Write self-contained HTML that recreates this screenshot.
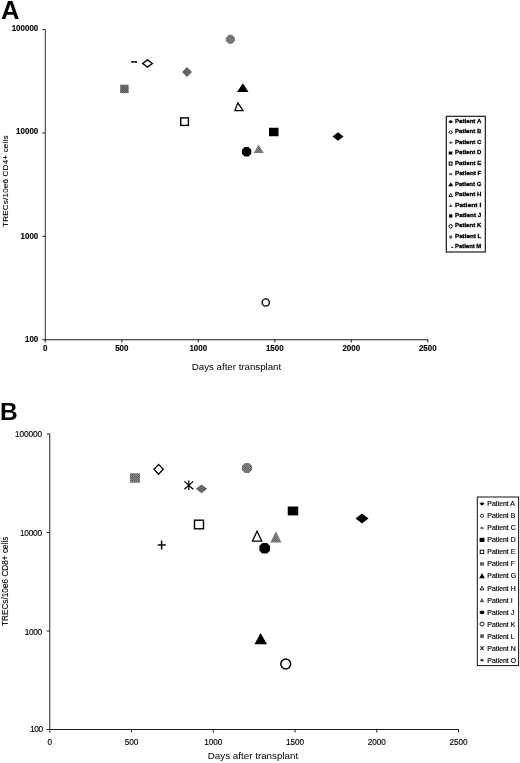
<!DOCTYPE html>
<html lang="en"><head><meta charset="utf-8"><title>TRECs after transplant</title>
<style>
html,body{margin:0;padding:0;background:#fff;}
body{width:520px;height:763px;overflow:hidden;font-family:"Liberation Sans", Arial, Helvetica, sans-serif;}
svg{display:block;font-family:"Liberation Sans", Arial, Helvetica, sans-serif;}
svg text{fill:#000;}
</style></head><body>
<svg width="520" height="763" viewBox="0 0 520 763">
<defs>
<pattern id="hatch" width="2" height="2" patternUnits="userSpaceOnUse">
<rect width="2" height="2" fill="#757575"/><rect width="1" height="1" fill="#505050"/><rect x="1" y="1" width="1" height="1" fill="#5c5c5c"/>
</pattern>
<pattern id="hatchB" width="2" height="2" patternUnits="userSpaceOnUse">
<rect width="2" height="2" fill="#8a8a8a"/><rect width="1" height="1" fill="#5a5a5a"/><rect x="1" y="1" width="1" height="1" fill="#686868"/>
</pattern>
</defs>
<rect width="520" height="763" fill="#fff"/>

<g id="panelA">
<text x="0.90" y="19.40" font-size="25.6" font-weight="bold" text-anchor="start">A</text>
<line x1="45.30" y1="29.10" x2="45.30" y2="340.20" stroke="#333" stroke-width="1.0"/>
<line x1="44.80" y1="339.70" x2="428.30" y2="339.70" stroke="#1a1a1a" stroke-width="1.05"/>
<line x1="45.30" y1="339.70" x2="45.30" y2="342.50" stroke="#222" stroke-width="1.0"/>
<text transform="translate(45.30 351.40) scale(1 1.16)" font-size="8" font-weight="bold" text-anchor="middle" stroke="#000" stroke-width="0.12">0</text>
<line x1="121.80" y1="339.70" x2="121.80" y2="342.50" stroke="#222" stroke-width="1.0"/>
<text transform="translate(121.80 351.40) scale(1 1.16)" font-size="8" font-weight="bold" text-anchor="middle" stroke="#000" stroke-width="0.12">500</text>
<line x1="198.30" y1="339.70" x2="198.30" y2="342.50" stroke="#222" stroke-width="1.0"/>
<text transform="translate(198.30 351.40) scale(1 1.16)" font-size="8" font-weight="bold" text-anchor="middle" stroke="#000" stroke-width="0.12">1000</text>
<line x1="274.80" y1="339.70" x2="274.80" y2="342.50" stroke="#222" stroke-width="1.0"/>
<text transform="translate(274.80 351.40) scale(1 1.16)" font-size="8" font-weight="bold" text-anchor="middle" stroke="#000" stroke-width="0.12">1500</text>
<line x1="351.30" y1="339.70" x2="351.30" y2="342.50" stroke="#222" stroke-width="1.0"/>
<text transform="translate(351.30 351.40) scale(1 1.16)" font-size="8" font-weight="bold" text-anchor="middle" stroke="#000" stroke-width="0.12">2000</text>
<line x1="427.80" y1="339.70" x2="427.80" y2="342.50" stroke="#222" stroke-width="1.0"/>
<text transform="translate(427.80 351.40) scale(1 1.16)" font-size="8" font-weight="bold" text-anchor="middle" stroke="#000" stroke-width="0.12">2500</text>
<line x1="42.30" y1="29.60" x2="45.30" y2="29.60" stroke="#222" stroke-width="1.0"/>
<text transform="translate(38.30 30.60) scale(1 1.14)" font-size="8" font-weight="bold" text-anchor="end" stroke="#000" stroke-width="0.12">100000</text>
<line x1="42.30" y1="132.97" x2="45.30" y2="132.97" stroke="#222" stroke-width="1.0"/>
<text transform="translate(38.30 133.90) scale(1 1.14)" font-size="8" font-weight="bold" text-anchor="end" stroke="#000" stroke-width="0.12">10000</text>
<line x1="42.30" y1="236.33" x2="45.30" y2="236.33" stroke="#222" stroke-width="1.0"/>
<text transform="translate(38.30 238.50) scale(1 1.14)" font-size="8" font-weight="bold" text-anchor="end" stroke="#000" stroke-width="0.12">1000</text>
<line x1="42.30" y1="339.70" x2="45.30" y2="339.70" stroke="#222" stroke-width="1.0"/>
<text transform="translate(38.30 341.75) scale(1 1.14)" font-size="8" font-weight="bold" text-anchor="end" stroke="#000" stroke-width="0.12">100</text>
<text x="236.50" y="370.20" font-size="9.7" font-weight="normal" text-anchor="middle">Days after transplant</text>
<text transform="translate(7.6 181.2) rotate(-90)" font-size="8.1" text-anchor="middle" textLength="91.5" lengthAdjust="spacing" stroke="#000" stroke-width="0.12">TRECs/10e6 CD4+ cells</text>
<line x1="131.00" y1="61.90" x2="137.10" y2="61.90" stroke="#000" stroke-width="1.5"/>
<polygon points="142.70,63.50 147.50,59.90 152.30,63.50 147.50,67.10" fill="#fff" stroke="#000" stroke-width="1.4" stroke-linejoin="miter"/>
<polygon points="182.00,72.00 187.00,67.00 192.00,72.00 187.00,77.00" fill="url(#hatch)"/>
<rect x="120.20" y="84.70" width="8.40" height="8.40" fill="url(#hatch)"/>
<polygon points="228.78,34.80 232.02,34.80 234.90,37.68 234.90,40.92 232.02,43.80 228.78,43.80 225.90,40.92 225.90,37.68" fill="url(#hatchB)"/>
<polygon points="242.90,83.30 248.50,92.00 237.00,92.00" fill="#000"/>
<polygon points="237.90,102.80 243.00,110.60 234.90,110.60" fill="#fff" stroke="#000" stroke-width="1.3" stroke-linejoin="miter"/>
<rect x="180.70" y="117.90" width="7.70" height="7.50" fill="#fff" stroke="#000" stroke-width="1.4"/>
<rect x="269.00" y="127.75" width="9.50" height="8.50" fill="#000"/>
<polygon points="244.63,147.05 248.57,147.05 251.30,149.78 251.30,153.72 248.57,156.45 244.63,156.45 241.90,153.72 241.90,149.78" fill="#000"/>
<polygon points="258.50,144.50 263.80,153.10 253.60,153.10" fill="url(#hatchB)"/>
<polygon points="332.50,136.50 338.00,132.35 343.50,136.50 338.00,140.65" fill="#000"/>
<circle cx="265.75" cy="302.50" r="3.60" fill="#fff" stroke="#000" stroke-width="1.4"/>
<rect x="446.30" y="116.30" width="39.00" height="135.70" fill="#fff" stroke="#111" stroke-width="1.15"/>
<polygon points="448.30,121.82 450.70,120.02 453.10,121.82 450.70,123.62" fill="#000"/>
<text x="455.00" y="123.02" font-size="6.1" font-weight="bold" text-anchor="start" stroke="#000" stroke-width="0.3" textLength="26.3" lengthAdjust="spacingAndGlyphs">Patient A</text>
<polygon points="448.70,132.26 450.70,130.76 452.70,132.26 450.70,133.76" fill="#fff" stroke="#000" stroke-width="0.9" stroke-linejoin="miter"/>
<text x="455.00" y="133.46" font-size="6.1" font-weight="bold" text-anchor="start" stroke="#000" stroke-width="0.3" textLength="26.3" lengthAdjust="spacingAndGlyphs">Patient B</text>
<polygon points="448.50,142.70 450.70,141.30 452.90,142.70 450.70,144.10" fill="#5e5e5e"/>
<text x="455.00" y="143.90" font-size="6.1" font-weight="bold" text-anchor="start" stroke="#000" stroke-width="0.3" textLength="26.3" lengthAdjust="spacingAndGlyphs">Patient C</text>
<rect x="448.70" y="151.53" width="3.60" height="3.00" fill="#000"/>
<text x="455.00" y="154.33" font-size="6.1" font-weight="bold" text-anchor="start" stroke="#000" stroke-width="0.3" textLength="26.3" lengthAdjust="spacingAndGlyphs">Patient D</text>
<rect x="449.20" y="162.07" width="2.80" height="3.10" fill="#fff" stroke="#000" stroke-width="1.0"/>
<text x="455.00" y="164.77" font-size="6.1" font-weight="bold" text-anchor="start" stroke="#000" stroke-width="0.3" textLength="26.3" lengthAdjust="spacingAndGlyphs">Patient E</text>
<rect x="449.10" y="173.11" width="3.10" height="2.00" fill="#5e5e5e"/>
<text x="455.00" y="175.21" font-size="6.1" font-weight="bold" text-anchor="start" stroke="#000" stroke-width="0.3" textLength="26.3" lengthAdjust="spacingAndGlyphs">Patient F</text>
<polygon points="450.70,182.15 453.20,186.35 448.20,186.35" fill="#000"/>
<text x="455.00" y="185.65" font-size="6.1" font-weight="bold" text-anchor="start" stroke="#000" stroke-width="0.3" textLength="26.3" lengthAdjust="spacingAndGlyphs">Patient G</text>
<polygon points="450.70,193.39 452.50,196.49 448.90,196.49" fill="#fff" stroke="#000" stroke-width="0.9" stroke-linejoin="miter"/>
<text x="455.00" y="196.09" font-size="6.1" font-weight="bold" text-anchor="start" stroke="#000" stroke-width="0.3" textLength="26.3" lengthAdjust="spacingAndGlyphs">Patient H</text>
<polygon points="450.70,203.63 452.70,207.03 448.70,207.03" fill="#5e5e5e"/>
<text x="455.00" y="206.53" font-size="6.1" font-weight="bold" text-anchor="start" stroke="#000" stroke-width="0.3" textLength="26.3" lengthAdjust="spacingAndGlyphs">Patient I</text>
<circle cx="450.70" cy="215.97" r="1.90" fill="#000"/>
<text x="455.00" y="216.97" font-size="6.1" font-weight="bold" text-anchor="start" stroke="#000" stroke-width="0.3" textLength="26.3" lengthAdjust="spacingAndGlyphs">Patient J</text>
<circle cx="450.70" cy="226.30" r="1.70" fill="#fff" stroke="#000" stroke-width="0.9"/>
<text x="455.00" y="227.40" font-size="6.1" font-weight="bold" text-anchor="start" stroke="#000" stroke-width="0.3" textLength="26.3" lengthAdjust="spacingAndGlyphs">Patient K</text>
<circle cx="450.70" cy="236.94" r="1.70" fill="#5e5e5e"/>
<text x="455.00" y="237.84" font-size="6.1" font-weight="bold" text-anchor="start" stroke="#000" stroke-width="0.3" textLength="26.3" lengthAdjust="spacingAndGlyphs">Patient L</text>
<line x1="451.00" y1="247.38" x2="453.20" y2="247.38" stroke="#000" stroke-width="0.9"/>
<text x="455.00" y="248.28" font-size="6.1" font-weight="bold" text-anchor="start" stroke="#000" stroke-width="0.3" textLength="26.3" lengthAdjust="spacingAndGlyphs">Patient M</text>
</g>
<g id="panelB">
<text x="0.00" y="419.50" font-size="24.5" font-weight="bold" text-anchor="start">B</text>
<line x1="49.75" y1="433.50" x2="49.75" y2="730.00" stroke="#222" stroke-width="1.0"/>
<line x1="49.25" y1="729.50" x2="459.00" y2="729.50" stroke="#1a1a1a" stroke-width="1.05"/>
<line x1="49.75" y1="729.50" x2="49.75" y2="732.50" stroke="#222" stroke-width="1.0"/>
<text x="49.75" y="744.70" font-size="8.2" font-weight="normal" text-anchor="middle" stroke="#000" stroke-width="0.15">0</text>
<line x1="131.50" y1="729.50" x2="131.50" y2="732.50" stroke="#222" stroke-width="1.0"/>
<text x="131.50" y="744.70" font-size="8.2" font-weight="normal" text-anchor="middle" stroke="#000" stroke-width="0.15">500</text>
<line x1="213.25" y1="729.50" x2="213.25" y2="732.50" stroke="#222" stroke-width="1.0"/>
<text x="213.25" y="744.70" font-size="8.2" font-weight="normal" text-anchor="middle" stroke="#000" stroke-width="0.15">1000</text>
<line x1="295.00" y1="729.50" x2="295.00" y2="732.50" stroke="#222" stroke-width="1.0"/>
<text x="295.00" y="744.70" font-size="8.2" font-weight="normal" text-anchor="middle" stroke="#000" stroke-width="0.15">1500</text>
<line x1="376.75" y1="729.50" x2="376.75" y2="732.50" stroke="#222" stroke-width="1.0"/>
<text x="376.75" y="744.70" font-size="8.2" font-weight="normal" text-anchor="middle" stroke="#000" stroke-width="0.15">2000</text>
<line x1="458.50" y1="729.50" x2="458.50" y2="732.50" stroke="#222" stroke-width="1.0"/>
<text x="458.50" y="744.70" font-size="8.2" font-weight="normal" text-anchor="middle" stroke="#000" stroke-width="0.15">2500</text>
<line x1="46.75" y1="434.00" x2="49.75" y2="434.00" stroke="#222" stroke-width="1.0"/>
<text x="42.00" y="436.60" font-size="8.3" font-weight="normal" text-anchor="end" stroke="#000" stroke-width="0.15" textLength="27.0" lengthAdjust="spacing">100000</text>
<line x1="46.75" y1="532.50" x2="49.75" y2="532.50" stroke="#222" stroke-width="1.0"/>
<text x="42.00" y="535.60" font-size="8.3" font-weight="normal" text-anchor="end" stroke="#000" stroke-width="0.15" textLength="22.0" lengthAdjust="spacing">10000</text>
<line x1="46.75" y1="631.00" x2="49.75" y2="631.00" stroke="#222" stroke-width="1.0"/>
<text x="42.00" y="634.50" font-size="8.3" font-weight="normal" text-anchor="end" stroke="#000" stroke-width="0.15" textLength="17.3" lengthAdjust="spacing">1000</text>
<line x1="46.75" y1="729.50" x2="49.75" y2="729.50" stroke="#222" stroke-width="1.0"/>
<text x="43.10" y="732.40" font-size="8.3" font-weight="normal" text-anchor="end" stroke="#000" stroke-width="0.15" textLength="13.1" lengthAdjust="spacing">100</text>
<text x="253.00" y="759.10" font-size="9.8" font-weight="normal" text-anchor="middle">Days after transplant</text>
<text transform="translate(8.4 581.3) rotate(-90)" font-size="8.2" text-anchor="middle" textLength="89.5" lengthAdjust="spacing" stroke="#000" stroke-width="0.12">TRECs/10e6 CD8+ cells</text>
<rect x="130.00" y="473.25" width="10.00" height="9.50" fill="url(#hatchB)"/>
<polygon points="154.00,469.30 158.60,464.40 163.20,469.30 158.60,474.20" fill="#fff" stroke="#000" stroke-width="1.3" stroke-linejoin="miter"/>
<line x1="188.80" y1="480.50" x2="188.80" y2="490.00" stroke="#000" stroke-width="1.25"/>
<line x1="184.40" y1="481.40" x2="193.20" y2="489.20" stroke="#000" stroke-width="1.25"/>
<line x1="193.20" y1="481.40" x2="184.40" y2="489.20" stroke="#000" stroke-width="1.25"/>
<polygon points="195.90,488.80 201.50,484.40 207.10,488.80 201.50,493.20" fill="url(#hatch)"/>
<rect x="194.50" y="520.20" width="9.00" height="8.60" fill="#fff" stroke="#000" stroke-width="1.4"/>
<line x1="157.75" y1="545.00" x2="165.75" y2="545.00" stroke="#000" stroke-width="1.45"/>
<line x1="161.60" y1="540.50" x2="161.60" y2="549.50" stroke="#000" stroke-width="1.45"/>
<polygon points="245.06,462.90 248.94,462.90 252.10,466.06 252.10,469.94 248.94,473.10 245.06,473.10 241.90,469.94 241.90,466.06" fill="url(#hatchB)"/>
<rect x="287.75" y="506.50" width="10.50" height="8.90" fill="#000"/>
<polygon points="257.00,531.20 261.80,541.20 252.50,541.20" fill="#fff" stroke="#000" stroke-width="1.3" stroke-linejoin="miter"/>
<polygon points="275.90,531.30 281.50,542.60 270.50,542.60" fill="url(#hatchB)"/>
<polygon points="262.31,543.00 267.08,543.00 270.00,545.91 270.00,550.68 267.08,553.60 262.31,553.60 259.40,550.68 259.40,545.91" fill="#000"/>
<polygon points="355.50,518.50 362.00,513.50 368.50,518.50 362.00,523.50" fill="#000"/>
<polygon points="260.60,633.00 267.00,644.25 254.50,644.25" fill="#000"/>
<circle cx="285.75" cy="664.00" r="4.90" fill="#fff" stroke="#000" stroke-width="1.5"/>
<rect x="477.30" y="497.00" width="41.30" height="168.60" fill="#fff" stroke="#111" stroke-width="1.0"/>
<polygon points="479.50,503.82 482.00,502.12 484.50,503.82 482.00,505.52" fill="#000"/>
<text x="487.30" y="506.22" font-size="6.9" font-weight="normal" text-anchor="start" stroke="#000" stroke-width="0.18">Patient A</text>
<polygon points="479.90,515.66 482.00,513.76 484.10,515.66 482.00,517.56" fill="#fff" stroke="#000" stroke-width="0.9" stroke-linejoin="miter"/>
<text x="487.30" y="518.26" font-size="6.9" font-weight="normal" text-anchor="start" stroke="#000" stroke-width="0.18">Patient B</text>
<polygon points="479.70,528.11 482.00,526.71 484.30,528.11 482.00,529.51" fill="#5e5e5e"/>
<text x="487.30" y="530.31" font-size="6.9" font-weight="normal" text-anchor="start" stroke="#000" stroke-width="0.18">Patient C</text>
<rect x="479.60" y="537.75" width="4.80" height="4.20" fill="#000"/>
<text x="487.30" y="542.35" font-size="6.9" font-weight="normal" text-anchor="start" stroke="#000" stroke-width="0.18">Patient D</text>
<rect x="480.20" y="550.19" width="3.60" height="3.40" fill="#fff" stroke="#000" stroke-width="0.9"/>
<text x="487.30" y="554.39" font-size="6.9" font-weight="normal" text-anchor="start" stroke="#000" stroke-width="0.18">Patient E</text>
<rect x="480.00" y="562.24" width="4.00" height="3.40" fill="#5e5e5e"/>
<text x="487.30" y="566.44" font-size="6.9" font-weight="normal" text-anchor="start" stroke="#000" stroke-width="0.18">Patient F</text>
<polygon points="482.00,573.08 484.80,578.28 479.20,578.28" fill="#000"/>
<text x="487.30" y="578.48" font-size="6.9" font-weight="normal" text-anchor="start" stroke="#000" stroke-width="0.18">Patient G</text>
<polygon points="482.00,586.32 484.00,589.82 480.00,589.82" fill="#fff" stroke="#000" stroke-width="0.9" stroke-linejoin="miter"/>
<text x="487.30" y="590.52" font-size="6.9" font-weight="normal" text-anchor="start" stroke="#000" stroke-width="0.18">Patient H</text>
<polygon points="482.00,597.76 484.40,602.16 479.60,602.16" fill="#5e5e5e"/>
<text x="487.30" y="602.56" font-size="6.9" font-weight="normal" text-anchor="start" stroke="#000" stroke-width="0.18">Patient I</text>
<ellipse cx="482.00" cy="612.31" rx="2.30" ry="1.90" fill="#000"/>
<text x="487.30" y="614.61" font-size="6.9" font-weight="normal" text-anchor="start" stroke="#000" stroke-width="0.18">Patient J</text>
<circle cx="482.00" cy="624.05" r="2.00" fill="#fff" stroke="#000" stroke-width="0.9"/>
<text x="487.30" y="626.65" font-size="6.9" font-weight="normal" text-anchor="start" stroke="#000" stroke-width="0.18">Patient K</text>
<circle cx="482.00" cy="636.09" r="2.20" fill="#5e5e5e"/>
<text x="487.30" y="638.69" font-size="6.9" font-weight="normal" text-anchor="start" stroke="#000" stroke-width="0.18">Patient L</text>
<line x1="482.00" y1="646.14" x2="482.00" y2="650.14" stroke="#000" stroke-width="0.8"/>
<line x1="480.00" y1="646.34" x2="484.00" y2="649.94" stroke="#000" stroke-width="0.8"/>
<line x1="484.00" y1="646.34" x2="480.00" y2="649.94" stroke="#000" stroke-width="0.8"/>
<text x="487.30" y="650.74" font-size="6.9" font-weight="normal" text-anchor="start" stroke="#000" stroke-width="0.18">Patient N</text>
<line x1="480.00" y1="660.18" x2="484.00" y2="660.18" stroke="#000" stroke-width="0.9"/>
<line x1="482.00" y1="658.58" x2="482.00" y2="661.78" stroke="#000" stroke-width="0.9"/>
<text x="487.30" y="662.78" font-size="6.9" font-weight="normal" text-anchor="start" stroke="#000" stroke-width="0.18">Patient O</text>
</g>
</svg>
</body></html>
